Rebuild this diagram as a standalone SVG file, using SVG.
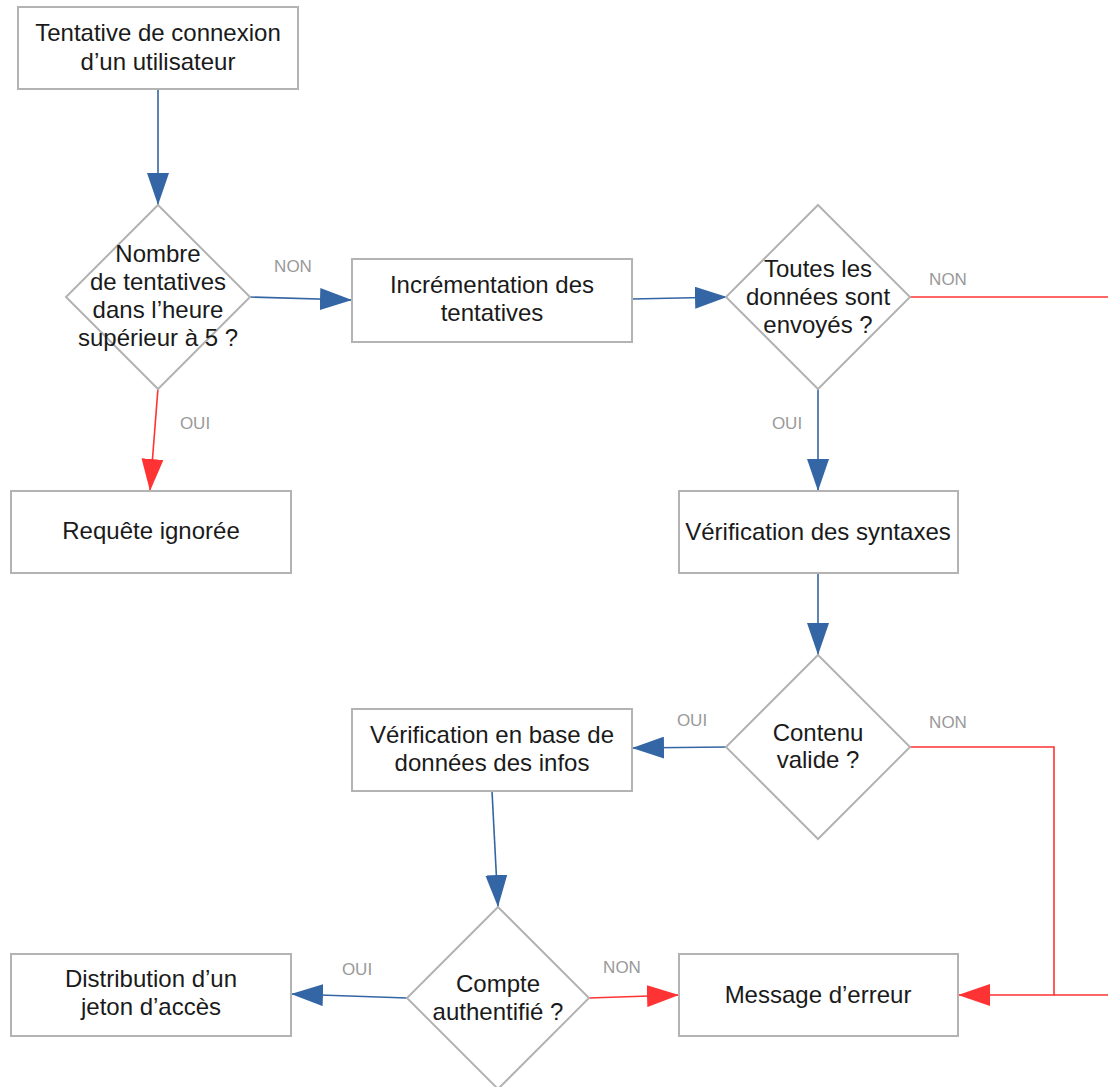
<svg xmlns="http://www.w3.org/2000/svg" width="1108" height="1087" viewBox="0 0 1108 1087">
<style>
.shape{fill:#ffffff;stroke:#b3b3b3;stroke-width:2}
.t{font-family:"Liberation Sans",Arial,sans-serif;font-size:24px;fill:#1a1a1a;text-anchor:middle}
.lbl{font-family:"Liberation Sans",Arial,sans-serif;font-size:17px;fill:#999999;text-anchor:middle}
.blue{fill:none;stroke:#3465a4;stroke-width:1.6}
.red{fill:none;stroke:#ff3333;stroke-width:1.6}
</style>
<defs>
<marker id="ab" markerUnits="userSpaceOnUse" viewBox="0 0 32 22" markerWidth="32" markerHeight="22" refX="32" refY="11" orient="auto"><path d="M0,0 L32,11 L0,22 Z" fill="#3465a4"/></marker>
<marker id="ar" markerUnits="userSpaceOnUse" viewBox="0 0 32 22" markerWidth="32" markerHeight="22" refX="32" refY="11" orient="auto"><path d="M0,0 L32,11 L0,22 Z" fill="#ff3333"/></marker>
</defs>
<rect width="1108" height="1087" fill="#ffffff"/>
<g id="connectors">
<path class="blue" d="M158,89 L158,205" marker-end="url(#ab)"/>
<path class="blue" d="M250,297 L352,300" marker-end="url(#ab)"/>
<path class="red" d="M158,388 L150,491" marker-end="url(#ar)"/>
<path class="blue" d="M632,299 L727,297" marker-end="url(#ab)"/>
<path class="red" d="M910,297 L1108,297"/>
<path class="blue" d="M818,388 L818,491" marker-end="url(#ab)"/>
<path class="blue" d="M818,573 L818,655" marker-end="url(#ab)"/>
<path class="blue" d="M727,747 L632,748" marker-end="url(#ab)"/>
<path class="red" d="M910,747 L1054,747 L1054,995 L958,995" marker-end="url(#ar)"/>
<path class="red" d="M1108,995 L1054,995"/>
<path class="blue" d="M492,791 L498,907" marker-end="url(#ab)"/>
<path class="blue" d="M407,998 L291,994" marker-end="url(#ab)"/>
<path class="red" d="M589,998 L679,995" marker-end="url(#ar)"/>
<text class="lbl" x="293" y="272">NON</text>
<text class="lbl" x="195" y="429">OUI</text>
<text class="lbl" x="948" y="285">NON</text>
<text class="lbl" x="787" y="429">OUI</text>
<text class="lbl" x="692" y="726">OUI</text>
<text class="lbl" x="948" y="728">NON</text>
<text class="lbl" x="357" y="975">OUI</text>
<text class="lbl" x="622" y="973">NON</text>
</g>
<g id="n1"><rect class="shape" x="18" y="7" width="280" height="82"/><text class="t" x="158" y="41">Tentative de connexion</text><text class="t" x="158" y="70">d’un utilisateur</text></g>
<g id="d1"><path class="shape" d="M158,205 L250,297 L158,389 L66,297 Z"/><text class="t" x="158" y="262">Nombre</text><text class="t" x="158" y="290">de tentatives</text><text class="t" x="158" y="318">dans l’heure</text><text class="t" x="158" y="346">supérieur à 5 ?</text></g>
<g id="n2"><rect class="shape" x="352" y="259" width="280" height="83"/><text class="t" x="492" y="293">Incrémentation des</text><text class="t" x="492" y="321">tentatives</text></g>
<g id="d2"><path class="shape" d="M818,205 L910,297 L818,389 L726,297 Z"/><text class="t" x="818" y="277">Toutes les</text><text class="t" x="818" y="305">données sont</text><text class="t" x="818" y="333">envoyés ?</text></g>
<g id="n3"><rect class="shape" x="11" y="491" width="280" height="82"/><text class="t" x="151" y="539">Requête ignorée</text></g>
<g id="n4"><rect class="shape" x="679" y="491" width="279" height="82"/><text class="t" x="818" y="540">Vérification des syntaxes</text></g>
<g id="d3"><path class="shape" d="M818,655 L910,747 L818,839 L726,747 Z"/><text class="t" x="818" y="741">Contenu</text><text class="t" x="818" y="768">valide ?</text></g>
<g id="n5"><rect class="shape" x="352" y="709" width="280" height="82"/><text class="t" x="492" y="743">Vérification en base de</text><text class="t" x="492" y="771">données des infos</text></g>
<g id="d4"><path class="shape" d="M498,907 L589,998 L498,1089 L407,998 Z"/><text class="t" x="498" y="992">Compte</text><text class="t" x="498" y="1020">authentifié ?</text></g>
<g id="n6"><rect class="shape" x="11" y="954" width="280" height="82"/><text class="t" x="151" y="987">Distribution d’un</text><text class="t" x="151" y="1015">jeton d’accès</text></g>
<g id="n7"><rect class="shape" x="679" y="954" width="279" height="82"/><text class="t" x="818" y="1003">Message d’erreur</text></g>
</svg>
